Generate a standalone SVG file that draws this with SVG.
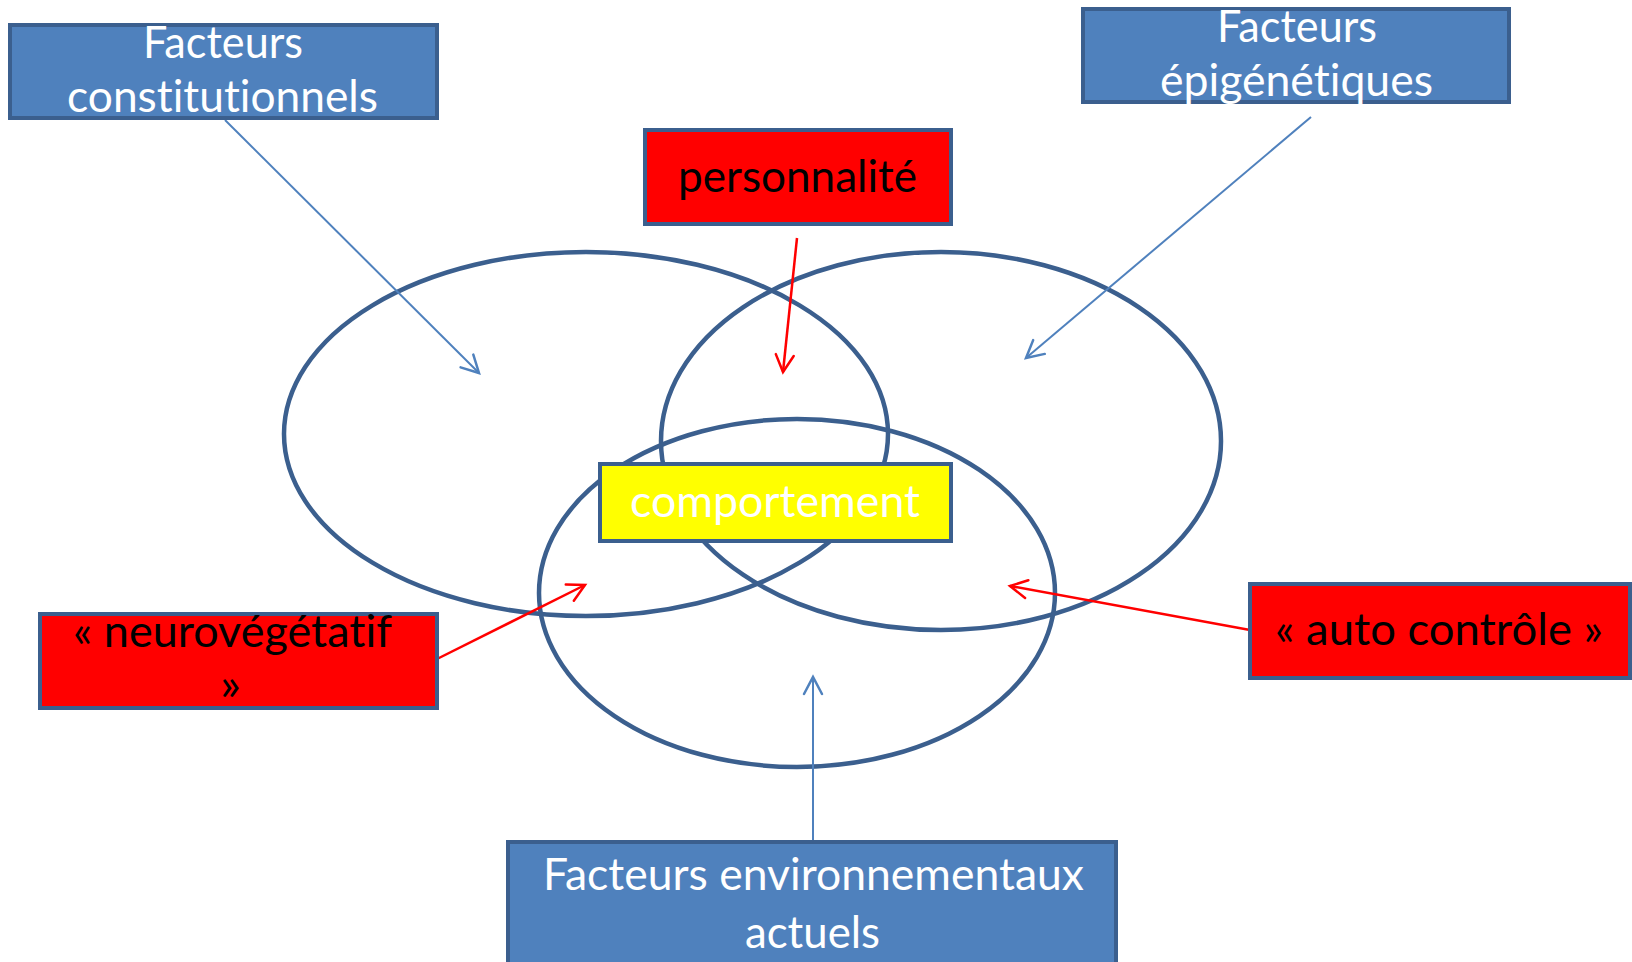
<svg xmlns="http://www.w3.org/2000/svg" width="1632" height="962" viewBox="0 0 1632 962">
<defs>
<style>
.box{stroke:#3B5F8E;stroke-width:4}
.blue{fill:#4F81BD}
.red{fill:#FF0000}
.yel{fill:#FFFF00}
.ell{fill:none;stroke:#3B5F8E;stroke-width:4.5}
.t{font-family:Lato,"Open Sans","Liberation Sans",sans-serif;font-size:44px;font-variant-ligatures:none;font-feature-settings:"liga" 0}
.w{fill:#FFFFFF}
.k{fill:#000000}
.cb{stroke:#4F81BD;stroke-width:2;fill:none}
.cr{stroke:#FF0000;stroke-width:2.5;fill:none}
</style>
<marker id="ab" viewBox="-20 -12 24 24" markerWidth="24" markerHeight="24" refX="0" refY="0" orient="auto" markerUnits="userSpaceOnUse">
<path d="M-17,-9 L0,0 L-17,9" fill="none" stroke="#4F81BD" stroke-width="2.5" stroke-linecap="round"/>
</marker>
<marker id="ar" viewBox="-20 -12 24 24" markerWidth="24" markerHeight="24" refX="0" refY="0" orient="auto" markerUnits="userSpaceOnUse">
<path d="M-17,-9 L0,0 L-17,9" fill="none" stroke="#FF0000" stroke-width="2.5" stroke-linecap="round"/>
</marker>
</defs>
<rect width="1632" height="962" fill="#FFFFFF"/>
<g id="ellipses">
<ellipse id="e-left" class="ell" cx="586" cy="434" rx="302" ry="182"/>
<ellipse id="e-right" class="ell" cx="941" cy="441" rx="280" ry="189"/>
<ellipse id="e-bottom" class="ell" cx="797" cy="593" rx="258" ry="174"/>
</g>
<g id="connectors">
<line class="cb" x1="225" y1="120" x2="479" y2="373" marker-end="url(#ab)"/>
<line class="cb" x1="1311" y1="117" x2="1026" y2="358" marker-end="url(#ab)"/>
<line class="cr" x1="797" y1="238" x2="783" y2="372" marker-end="url(#ar)"/>
<line class="cr" x1="437" y1="659" x2="585" y2="585" marker-end="url(#ar)"/>
<line class="cr" x1="1250" y1="630" x2="1010" y2="586" marker-end="url(#ar)"/>
<line class="cb" x1="813" y1="842" x2="813" y2="677" marker-end="url(#ab)"/>
</g>
<g id="n-constitutionnels">
<rect class="box blue" x="10" y="25" width="427" height="93"/>
<text class="t w" x="143" y="58" textLength="160" lengthAdjust="spacingAndGlyphs">Facteurs</text>
<text class="t w" x="67" y="112" textLength="311" lengthAdjust="spacingAndGlyphs">constitutionnels</text>
</g>
<g id="n-epigenetiques">
<rect class="box blue" x="1083" y="9" width="426" height="93"/>
<text class="t w" x="1217" y="42" textLength="160" lengthAdjust="spacingAndGlyphs">Facteurs</text>
<text class="t w" x="1160" y="96" textLength="273" lengthAdjust="spacingAndGlyphs">épigénétiques</text>
</g>
<g id="n-personnalite">
<rect class="box red" x="645" y="130" width="306" height="94"/>
<text class="t k" x="678" y="192" textLength="239" lengthAdjust="spacingAndGlyphs">personnalité</text>
</g>
<g id="n-comportement">
<rect class="box yel" x="600" y="464" width="351" height="77"/>
<text class="t w" x="630" y="517" textLength="290" lengthAdjust="spacingAndGlyphs">comportement</text>
</g>
<g id="n-neurovegetatif">
<rect class="box red" x="40" y="614" width="397" height="94"/>
<text class="t k" x="73" y="647" textLength="319" lengthAdjust="spacingAndGlyphs">« neurovégétatif</text>
<text class="t k" x="220" y="700" textLength="21" lengthAdjust="spacingAndGlyphs">»</text>
</g>
<g id="n-autocontrole">
<rect class="box red" x="1250" y="584" width="380" height="94"/>
<text class="t k" x="1275" y="645" textLength="328" lengthAdjust="spacingAndGlyphs">« auto contrôle »</text>
</g>
<g id="n-environnementaux">
<rect class="box blue" x="508" y="842" width="608" height="124"/>
<text class="t w" x="543" y="890" textLength="541" lengthAdjust="spacingAndGlyphs">Facteurs environnementaux</text>
<text class="t w" x="745" y="948" textLength="135" lengthAdjust="spacingAndGlyphs">actuels</text>
</g>
</svg>
